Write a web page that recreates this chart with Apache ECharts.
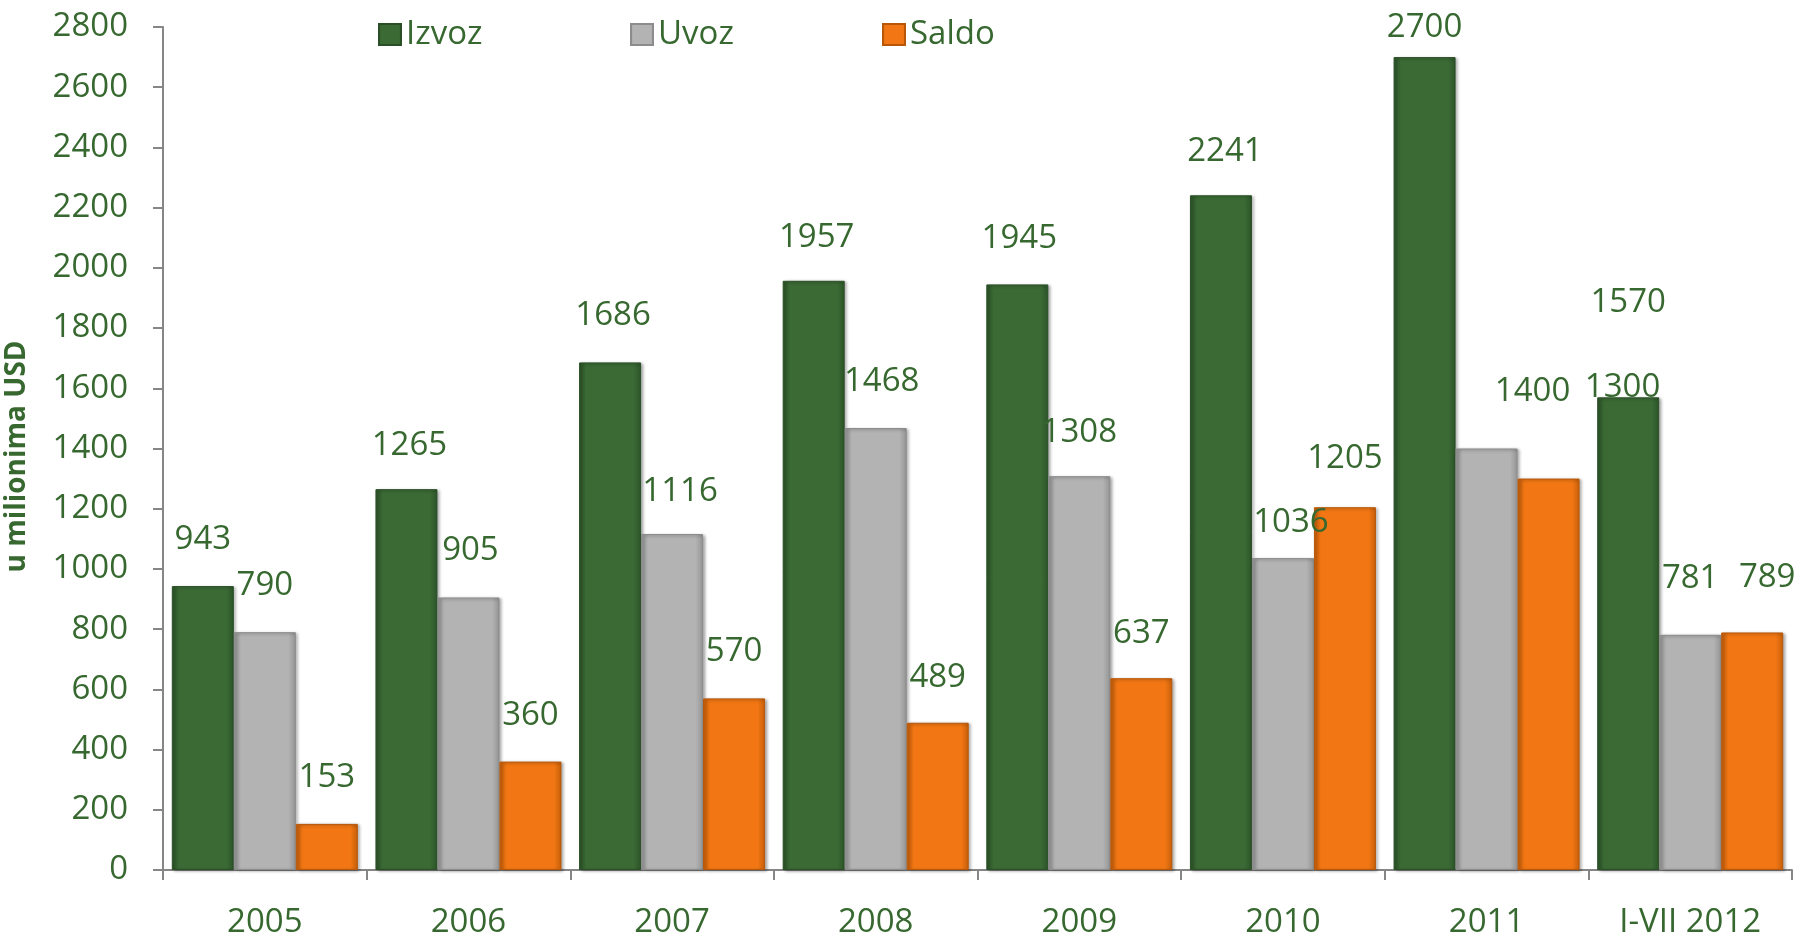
<!DOCTYPE html>
<html>
<head>
<meta charset="utf-8">
<script src="https://cdn.jsdelivr.net/npm/echarts@6/dist/echarts.min.js"></script>
<style>
html,body{margin:0;padding:0;background:#fff;}
#chart{width:1818px;height:935px;}
</style>
</head>
<body>
<div id="chart"></div>
<script>
// ---- data ----
const categories = ['2005', '2006', '2007', '2008', '2009', '2010', '2011', 'I-VII 2012'];
const izvoz = [943, 1265, 1686, 1957, 1945, 2241, 2700, 1570];
const uvoz  = [790, 905, 1116, 1468, 1308, 1036, 1400, 781];
const saldo = [153, 360, 570, 489, 637, 1205, 1300, 789];
const yTicks = { min: 0, max: 2800, interval: 200 };

// label placement tweaks (labels were placed by hand in the original)
const izvozLabelDist = [30, 27, 30, 27, 29, 27, 13, 78];
const uvozLabelDist  = [30, 30, 26, 30, 27, 19, 40, 40];
const saldoLabelDist = [30, 30, 30, 29, 28, 32, 75, 38];
const uvozLabelDx  = [0, 2, 8, 6, 0, 8, 46, 0];
const saldoLabelDx = [0, 0, 0, 0, 0, 0, 74, 15];
const izvozLabelDx = [0, 3, 3, 3, 2, 4, 0, 0];

const TEXT = '#36682f';
const FONT = 'Open Sans';

function grad(c1, c2) {
  return new echarts.graphic.LinearGradient(0, 0, 1, 0, [
    { offset: 0, color: c1 },
    { offset: 0.12, color: c2 },
    { offset: 0.88, color: c2 },
    { offset: 1, color: c1 }
  ]);
}

function makeSeries(name, values, dists, dxs, c1, c2, border) {
  return {
    name: name,
    type: 'bar',
    barWidth: 62,
    barGap: '0%',
    data: values.map((v, i) => ({ value: v, label: { distance: dists[i], offset: [dxs[i], 0] } })),
    itemStyle: {
      color: grad(c1, c2),
      borderColor: border,
      borderWidth: 1,
      shadowColor: 'rgba(0,0,0,0.35)',
      shadowBlur: 3,
      shadowOffsetX: 2,
      shadowOffsetY: 1
    },
    label: {
      show: true,
      position: 'top',
      color: TEXT,
      fontFamily: FONT,
      fontSize: 33
    },
    emphasis: { disabled: true }
  };
}

function legend(name, left) {
  return {
    data: [name],
    left: left,
    top: 13,
    itemWidth: 22,
    itemHeight: 21,
    itemGap: 10,
    icon: 'rect',
    textStyle: { color: TEXT, fontFamily: FONT, fontSize: 33 }
  };
}

const chart = echarts.init(document.getElementById('chart'), null, { renderer: 'canvas' });
chart.setOption({
  backgroundColor: '#ffffff',
  animation: false,
  legend: [
    legend('Izvoz', 373),
    legend('Uvoz', 625),
    legend('Saldo', 877)
  ],
  grid: {
    left: 163,
    right: 26,
    top: 27,
    bottom: 65,
    outerBoundsMode: 'none',
    containLabel: false
  },
  xAxis: {
    type: 'category',
    data: categories,
    axisLine: { lineStyle: { color: '#868686', width: 2 } },
    axisTick: { show: true, length: 10, lineStyle: { color: '#868686', width: 2 } },
    axisLabel: { color: TEXT, fontFamily: FONT, fontSize: 33, margin: 36, interval: 0 }
  },
  yAxis: {
    type: 'value',
    min: yTicks.min,
    max: yTicks.max,
    interval: yTicks.interval,
    name: 'u milionima USD',
    nameLocation: 'middle',
    nameGap: 132,
    nameRotate: 90,
    nameTextStyle: { color: TEXT, fontFamily: FONT, fontSize: 28, fontWeight: 'bold', padding: [0, 0, 0, -16] },
    splitLine: { show: false },
    axisLine: { show: true, lineStyle: { color: '#868686', width: 2 } },
    axisTick: { show: true, length: 10, lineStyle: { color: '#868686', width: 2 } },
    axisLabel: { color: TEXT, fontFamily: FONT, fontSize: 33, margin: 35, formatter: v => String(v) }
  },
  series: [
    makeSeries('Izvoz', izvoz, izvozLabelDist, izvozLabelDx, '#2c5428', '#3b6a35', '#2a4f26'),
    makeSeries('Uvoz', uvoz, uvozLabelDist, uvozLabelDx, '#949494', '#b3b3b3', '#8c8c8c'),
    makeSeries('Saldo', saldo, saldoLabelDist, saldoLabelDx, '#c65f0a', '#f27714', '#b85708')
  ],
  color: ['#3b6a35', '#b3b3b3', '#f27714']
});
</script>
</body>
</html>
